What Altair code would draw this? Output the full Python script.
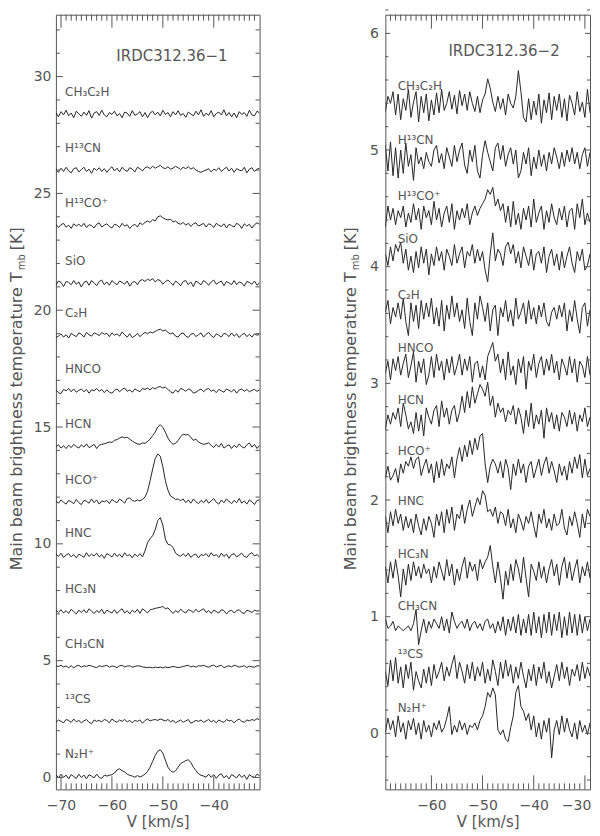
import altair as alt
import pandas as pd

FONT = "DejaVu Sans"
TEXT = "#555555"
LINE = "#262626"
FRAME = "#555555"

# ---------------- velocity channels ----------------
V0_L, DV_L = -71.0, 0.5
V0_R, DV_R = -69.0, 0.5

# ---------------- molecule labels ----------------
NAMES = ["CH₃C₂H", "H¹³CN", "H¹³CO⁺", "SiO", "C₂H", "HNCO", "HCN",
         "HCO⁺", "HNC", "HC₃N", "CH₃CN", "¹³CS", "N₂H⁺"]

# baseline offsets [K]
LEFT_OFFSETS = [28.40, 26.00, 23.62, 21.15, 18.93, 16.55, 14.18,
                11.80, 9.50, 7.10, 4.75, 2.40, 0.04]
RIGHT_OFFSETS = [5.38, 4.92, 4.44, 4.07, 3.59, 3.13, 2.69,
                 2.25, 1.82, 1.37, 0.92, 0.51, 0.05]

# ---------------- IRDC312.36-1 spectra (0.01 K above baseline) ----------------
L_CH3C2H = [6,-12,10,-4,16,-8,4,-16,12,0,
            -10,8,-6,14,-18,4,10,-6,16,-4,
            -12,6,-2,12,-8,2,-16,8,4,-10,
            14,-6,0,10,-12,6,-16,4,12,-4,
            8,-8,16,-2,6,-12,10,-4,14,-6,
            2,-14,8,0,-8,12,-4,18,-10,4,
            -6,14,-12,2,8,-4,18,-8,6,-12,
            4,-16,10,-2,6,-10,16,-4,-8,12,
            4]
L_H13CN = [4,-10,8,-6,12,-4,-12,6,10,-8,
           2,12,-6,4,-14,8,-2,10,-6,6,
           -10,4,14,-4,8,-8,12,0,-6,10,
           4,-8,12,6,-4,10,14,6,16,8,
           14,20,10,6,14,4,8,16,10,2,
           12,6,14,4,10,0,-6,-10,-4,0,
           6,-8,4,-2,10,-6,4,12,-4,8,
           -10,6,0,-4,12,-12,4,10,-6,4,
           8]
L_H13COP = [6,-8,4,10,-6,2,-12,8,-2,6,
            -4,10,-8,4,0,-10,6,12,-6,2,
            8,-4,-10,6,2,-8,10,-2,4,-12,
            0,6,-6,12,4,14,20,14,26,20,
            38,42,34,28,24,28,16,20,10,6,
            14,2,10,-4,8,12,-2,4,10,-6,
            8,4,-8,10,2,-4,8,-10,6,0,
            -6,10,4,-12,8,-2,6,-10,4,12,
            6]
L_SIO = [-8,10,4,-14,8,4,-6,12,-4,6,
         -16,4,10,-8,12,2,-10,8,14,-6,
         6,-8,12,2,-6,10,4,-4,10,-12,
         4,8,-6,12,16,8,18,12,20,6,
         16,12,-4,8,14,4,-8,10,2,-10,
         8,12,-6,6,-14,10,2,-6,12,4,
         -8,6,14,-4,4,10,-10,8,2,-6,
         12,-6,6,2,-12,8,4,-4,10,-8,
         2]
L_C2H = [-10,-4,6,-8,2,-12,8,0,-6,10,
         4,-8,12,2,-4,10,6,-2,12,4,
         8,-6,10,0,6,-4,14,2,-8,6,
         -10,-4,8,-6,4,12,6,14,10,16,
         22,26,18,22,12,6,10,-4,-8,6,
         10,-4,-10,4,8,-6,2,10,-8,4,
         12,-2,-10,6,0,-8,8,4,-6,10,
         -4,6,-10,2,8,-6,4,-8,6,0,
         4]
L_HNCO = [4,-8,-12,6,0,10,-4,8,-6,2,
          8,-4,6,-10,4,0,10,-2,6,-8,
          4,-6,-10,2,8,-4,6,12,-2,4,
          -6,8,2,-4,10,6,12,4,14,8,
          16,18,12,16,6,-4,-10,4,-6,10,
          6,-2,8,4,-10,-6,2,8,-4,6,
          10,-2,4,-8,6,0,-6,8,2,-4,
          6,-10,4,8,-2,6,-4,2,6,-2,
          4]
L_HCN = [-4,6,-8,2,-10,4,-6,8,-2,-8,
         6,-4,10,-6,0,8,-10,4,8,10,
         14,18,16,25,28,35,40,36,38,30,
         22,15,10,8,14,12,20,30,45,60,
         82,92,80,60,35,18,8,12,25,40,
         52,48,50,38,25,30,18,12,8,10,
         14,4,-6,8,-4,12,-8,0,6,-10,
         4,-6,10,-2,-8,6,14,-4,8,-10,
         4]
L_HCOP = [4,-6,8,-2,-10,6,0,-8,10,-4,
          -12,6,2,-6,12,-4,8,-10,4,0,
          6,-8,10,2,-4,12,4,-6,14,16,
          6,2,8,4,10,20,45,90,140,185,
          205,195,150,90,50,25,18,10,12,5,
          12,-4,8,-6,12,0,-8,6,-4,10,
          -6,4,14,-2,-10,8,-4,12,2,-8,
          6,-4,14,-6,4,-10,8,0,-12,6,
          8]
L_HNC = [6,-4,10,-8,2,8,-6,4,-10,6,
         0,-8,12,-4,6,-2,10,-6,4,-12,
         8,2,-6,10,-4,6,-8,12,-2,4,
         -10,6,-4,8,-6,20,55,72,85,110,
         150,162,130,70,48,45,35,10,2,-3,
         8,-4,10,-8,2,6,-10,4,0,8,
         -6,12,-2,4,-8,10,-4,6,-12,4,
         8,-6,2,10,-4,-8,6,12,-2,4,
         -6]
L_HC3N = [6,-4,8,-6,4,-8,10,0,-10,6,
          -4,8,-6,12,2,-8,4,-4,10,-10,
          6,0,-6,8,-8,4,12,-6,4,-10,
          6,-4,10,-8,12,4,-6,8,10,14,
          16,18,22,12,16,4,-8,4,-4,10,
          0,-6,8,4,-4,10,-2,6,12,-4,
          4,-8,6,0,-6,8,4,-10,2,6,
          -6,4,8,-4,-8,6,2,-4,6,2,
          4]
L_CH3CN = [3,0,5,-2,2,-5,3,-6,2,5,
           -3,3,0,5,2,-2,-5,3,0,2,
           5,-3,2,0,-5,3,5,-2,2,3,
           -3,0,3,2,-2,-3,-5,-3,-6,-3,
           -5,-3,-6,-2,-5,-3,0,-2,-5,-3,
           0,3,5,-2,2,-3,3,2,5,0,
           -3,3,6,-2,2,5,-5,0,3,-2,
           5,2,-3,0,3,-5,2,-2,-3,3,
           2]
L_13CS = [-4,6,0,-6,8,4,-4,10,-2,4,
          -6,2,8,-4,-10,6,0,4,-2,8,
          4,-6,10,2,-4,6,0,8,-2,4,
          -6,4,0,6,-8,4,10,2,6,8,
          4,10,6,2,8,-2,4,-6,0,6,
          -4,2,8,-8,-2,4,0,6,-4,2,
          8,-2,4,-6,6,0,-4,8,2,4,
          -6,4,10,0,-4,6,2,8,4,12,
          6]
L_N2HP = [8,-6,10,-4,6,-10,8,0,-8,10,
          -4,6,-10,8,2,-6,10,-4,-8,6,
          2,5,8,15,28,33,25,20,10,5,
          2,-3,4,-2,3,10,22,40,65,90,
          108,115,100,70,40,25,18,25,40,55,
          62,68,72,60,40,25,12,5,2,-3,
          10,-4,8,-8,6,12,-6,4,-10,8,
          2,-6,10,-4,6,-12,8,0,-4,10,
          4]

# ---------------- IRDC312.36-2 spectra (0.01 K above baseline) ----------------
R_CH3C2H = [-5,8,2,12,-8,10,-12,6,-4,14,
            -10,3,12,-14,8,-6,10,-13,5,-8,
            11,-6,14,-4,2,12,-3,9,-7,13,
            0,10,-4,12,2,-5,8,-6,5,10,
            23,15,3,-5,8,-3,6,-8,10,2,
            -2,8,30,12,-10,-14,6,-12,4,-8,
            10,-15,5,-6,11,-12,8,-4,10,-10,
            6,-13,9,2,-8,12,-5,3,-10,14,
            -6]
R_H13CN = [12,-10,15,-14,10,-16,8,-12,14,-6,
           4,-18,10,-4,2,-8,6,-2,-6,8,
           12,-3,5,-8,10,2,-6,12,-2,8,
           14,-5,-12,8,-2,12,-10,-16,4,16,
           6,-2,-10,10,14,0,12,-6,4,10,
           -4,8,-16,-10,6,-4,10,-14,2,-8,
           8,-6,4,-10,6,-4,10,2,-8,6,
           -6,8,-2,10,-4,6,-8,4,10,-6,
           6]
R_H13COP = [-10,8,-4,6,-8,4,-2,8,-10,2,
            -6,10,-4,6,-12,8,-2,4,-8,12,
            -4,6,-10,2,8,-6,10,-12,4,-4,
            6,-2,10,-8,2,8,0,6,10,14,
            22,18,24,8,14,4,10,-6,8,-10,
            12,-8,2,-12,6,-4,8,-10,14,-6,
            2,8,-12,4,-6,10,-2,-8,6,-4,
            8,-10,4,6,-12,10,-2,14,-8,2,
            -6]
R_SIO = [4,-6,10,-2,12,6,14,-4,8,-10,
         2,-12,6,-8,10,-4,8,-14,4,-6,
         10,-2,6,-10,8,2,-6,12,-4,4,
         10,-8,6,2,12,-4,8,-2,6,-10,
         -20,4,22,-2,8,4,-6,10,14,4,
         12,-4,6,-8,10,2,-6,8,-10,4,
         6,-4,10,-12,2,8,-6,4,-10,6,
         -8,2,10,-4,-12,6,-2,8,-10,-6,
         4]
R_C2H = [2,12,-8,6,-2,10,-4,14,-6,-18,
         10,-6,8,-12,12,-4,10,-2,14,-8,
         6,-10,12,-14,8,-4,16,-2,10,-6,
         4,-12,14,-6,-18,10,-4,16,6,-6,
         10,-14,4,8,-18,6,-2,12,-6,4,
         -10,14,-4,2,10,-8,12,-4,6,-8,
         8,-2,10,-6,-10,2,6,-4,8,-2,
         10,-14,4,-6,12,-4,-16,6,10,-10,
         4]
R_HNCO = [-4,6,-10,8,-2,10,-6,4,12,-8,
          2,14,-12,6,-4,8,-14,-6,10,-8,
          12,-2,6,-10,8,-4,10,-6,2,12,
          -6,8,-2,10,-12,4,6,-8,2,-10,
          10,16,22,6,12,-4,8,-10,14,-6,
          2,-14,8,-4,10,-18,6,-2,12,-8,
          4,10,-6,8,-2,12,-4,6,-10,8,
          2,-6,10,-4,8,-12,6,2,-8,10,
          -6]
R_HCN = [-8,4,-4,6,0,10,-6,14,4,-8,
         -2,-12,6,-10,4,-14,10,2,-4,8,
         12,-6,16,2,10,-4,8,12,-2,6,
         20,6,24,10,28,14,22,30,26,20,
         32,12,20,2,14,6,10,-2,8,4,
         12,-4,10,2,-12,8,-6,14,-8,4,
         -4,8,-16,10,-2,6,-8,4,-10,6,
         2,-6,8,-4,6,-10,4,-2,10,-6,
         2]
R_HCOP = [-6,4,-8,-4,2,-10,6,-2,8,4,
          12,2,10,12,-4,4,10,-2,6,-10,
          8,-6,10,-4,6,2,12,-6,10,20,
          8,22,12,26,14,28,18,30,32,6,
          -10,4,10,6,-2,8,-6,10,2,-16,
          6,-4,10,-2,6,-10,4,8,-6,2,
          10,-4,6,12,-2,8,0,-10,6,-4,
          4,-8,8,-2,12,2,14,-6,10,-4,
          2]
R_HNC = [4,-10,8,-4,10,-2,6,-8,4,-6,
         2,-10,6,-4,-12,2,-8,4,-2,-14,
         6,-4,8,-10,10,-2,12,-8,6,2,
         14,-2,10,18,4,12,20,14,26,22,
         8,10,4,12,-2,8,6,-4,10,-6,
         2,-10,6,0,-8,4,-2,8,-4,-14,
         6,-2,10,-6,2,-8,6,-4,-2,10,
         -6,-12,4,-4,8,-2,-14,6,-6,10,
         4]
R_HC3N = [6,-8,10,-4,12,-2,-20,4,-10,8,
          -6,10,-2,6,-4,8,0,4,-8,6,
          -4,10,2,-6,12,-2,8,-10,4,-6,
          6,14,-4,10,2,8,-6,12,4,10,
          14,24,6,-8,10,-4,-22,2,-10,8,
          -6,12,4,-8,14,-4,-20,8,2,-6,
          10,-4,6,-8,4,12,-2,8,-10,6,
          14,-4,10,-6,4,12,-8,6,-2,10,
          -4]
R_CH3CN = [6,-2,0,4,-4,0,-2,-4,-2,0,
           -4,2,14,-16,-4,6,-6,4,-2,6,
           2,-2,8,-4,6,-6,12,4,-2,2,
           4,-2,6,-4,2,4,-2,2,-4,4,
           6,-2,2,-6,4,-4,8,-8,6,-4,
           8,-6,10,-8,6,-6,10,-8,12,-6,
           8,-10,10,-6,12,-8,10,-4,12,-10,
           8,-8,12,-6,10,-8,10,-6,8,-4,
           6]
R_13CS = [2,-10,12,-6,14,-8,6,-12,8,-4,
          10,-14,2,-6,-12,4,-8,6,-10,8,
          -4,2,10,-6,6,-2,8,16,-4,10,
          2,-8,8,-4,10,-6,6,-2,10,-8,
          4,-6,12,2,-10,10,-4,12,-2,8,
          -8,6,-4,10,-2,-12,4,-6,8,-10,
          6,-4,10,-8,2,-12,-2,8,-6,10,
          -4,6,-10,4,-2,8,-6,10,-4,6,
          -2]
R_N2HP = [-4,8,-2,6,-8,10,-4,4,-10,6,
          -2,8,-6,4,-10,6,-4,2,-8,4,
          -2,6,-4,0,8,18,-6,2,-4,6,
          -2,4,-6,2,0,4,-2,6,10,18,
          30,26,34,28,-2,-6,-2,-10,-12,0,
          10,30,36,18,14,6,12,-2,10,-8,
          4,-10,6,-4,8,-26,-2,6,-6,10,
          -4,8,-2,-8,4,-10,6,-4,2,-6,
          4]

LEFT_SPECTRA = [L_CH3C2H, L_H13CN, L_H13COP, L_SIO, L_C2H, L_HNCO, L_HCN,
                L_HCOP, L_HNC, L_HC3N, L_CH3CN, L_13CS, L_N2HP]
RIGHT_SPECTRA = [R_CH3C2H, R_H13CN, R_H13COP, R_SIO, R_C2H, R_HNCO, R_HCN,
                 R_HCOP, R_HNC, R_HC3N, R_CH3CN, R_13CS, R_N2HP]

# axis ticks
L_XMAJOR = [-70, -60, -50, -40]
R_XMAJOR = [-60, -50, -40, -30]
L_YMAJOR = [0, 5, 10, 15, 20, 25, 30]
R_YMAJOR = [0, 1, 2, 3, 4, 5, 6]

TITLES = ["IRDC312.36−1", "IRDC312.36−2"]
YTITLE = ["Main beam brightness temperature T", "mb", "[K]"]


def spectra_frame(spectra, offsets, v0, dv):
    rows = []
    for name, vals, off in zip(NAMES, spectra, offsets):
        for i, t in enumerate(vals):
            rows.append({"name": name, "v": v0 + dv * i, "T": off + t / 100.0})
    return pd.DataFrame(rows)


def panel(spectra, offsets, v0, dv, xdom, ydom, xmaj, ymaj, xminor, yminor,
          W, H, xt_major, xt_minor, yt_major, yt_minor, ylabpad,
          lab_x, lab_dy, title, title_x, title_y, ytitle_x, flush):
    xs = alt.Scale(domain=xdom, nice=False, zero=False)
    ys = alt.Scale(domain=ydom, nice=False, zero=False)
    xa = alt.Axis(values=xmaj, ticks=False, tickSize=0, domain=False, grid=False,
                  labelPadding=9, title="V [km/s]", titlePadding=2,
                  format="d", labelFlush=flush, labelFlushOffset=6)
    ya = alt.Axis(values=ymaj, ticks=False, tickSize=0, domain=False, grid=False,
                  labelPadding=ylabpad, title=None, format="d", labelFlush=False)
    df = spectra_frame(spectra, offsets, v0, dv)

    lines = alt.Chart(df).mark_line(color=LINE, strokeWidth=1, clip=True).encode(
        x=alt.X("v:Q", scale=xs, axis=xa, title="V [km/s]"),
        y=alt.Y("T:Q", scale=ys, axis=ya, title=None),
        detail="name:N",
    )

    layers = [lines]

    def yrule(vals, x1, x2):
        d = pd.DataFrame({"val": vals})
        return alt.Chart(d).mark_rule(color=FRAME, strokeWidth=1).encode(
            y=alt.Y("val:Q", scale=ys, axis=ya, title=None),
            x=alt.value(x1), x2=alt.value(x2))

    def xrule(vals, y1, y2):
        d = pd.DataFrame({"val": vals})
        return alt.Chart(d).mark_rule(color=FRAME, strokeWidth=1).encode(
            x=alt.X("val:Q", scale=xs, axis=xa, title="V [km/s]"),
            y=alt.value(y1), y2=alt.value(y2))

    layers += [yrule(ymaj, 0, yt_major), yrule(ymaj, W, W - yt_major),
               yrule(yminor, 0, yt_minor), yrule(yminor, W, W - yt_minor),
               xrule(xmaj, H, H - xt_major), xrule(xmaj, 0, xt_major),
               xrule(xminor, H, H - xt_minor), xrule(xminor, 0, xt_minor)]

    labs = pd.DataFrame({"label": NAMES,
                         "x": [lab_x] * len(NAMES),
                         "y": [o + lab_dy for o in offsets]})
    layers.append(alt.Chart(labs).mark_text(align="left", baseline="middle", font=FONT,
                                            fontSize=12, color=TEXT).encode(
        x=alt.X("x:Q", scale=xs, axis=xa, title="V [km/s]"),
        y=alt.Y("y:Q", scale=ys, axis=ya, title=None),
        text="label:N"))

    tdf = pd.DataFrame({"t": [title], "x": [title_x], "y": [title_y]})
    layers.append(alt.Chart(tdf).mark_text(align="center", baseline="middle", font=FONT,
                                           fontSize=15, color=TEXT).encode(
        x=alt.X("x:Q", scale=xs, axis=xa, title="V [km/s]"),
        y=alt.Y("y:Q", scale=ys, axis=ya, title=None),
        text="t:N"))

    # rotated y-axis title with subscript
    yt = pd.DataFrame({"a": [YTITLE[0]], "b": [YTITLE[1]], "c": [YTITLE[2]]})
    layers.append(alt.Chart(yt).mark_text(angle=270, align="right", baseline="middle",
                                          font=FONT, fontSize=16, color=TEXT).encode(
        x=alt.value(ytitle_x), y=alt.value(258), text="a:N"))
    layers.append(alt.Chart(yt).mark_text(angle=270, align="left", baseline="middle",
                                          font=FONT, fontSize=10, color=TEXT).encode(
        x=alt.value(ytitle_x + 5), y=alt.value(256), text="b:N"))
    layers.append(alt.Chart(yt).mark_text(angle=270, align="left", baseline="middle",
                                          font=FONT, fontSize=16, color=TEXT).encode(
        x=alt.value(ytitle_x), y=alt.value(236), text="c:N"))

    return alt.layer(*layers).properties(width=W, height=H)


H = 776
left = panel(LEFT_SPECTRA, LEFT_OFFSETS, V0_L, DV_L,
             [-71.0, -31.0], [-0.51, 32.65], L_XMAJOR, L_YMAJOR,
             [v for v in range(-70, -31) if v not in L_XMAJOR],
             [v for v in range(0, 33) if v not in L_YMAJOR],
             204, H, 13, 6, 7, 4, 5,
             -69.2, 0.95, TITLES[0], -48.2, 30.9, -39, False)

right = panel(RIGHT_SPECTRA, RIGHT_OFFSETS, V0_R, DV_R,
              [-69.0, -29.0], [-0.48, 6.16], R_XMAJOR, R_YMAJOR,
              [v for v in range(-68, -29) if v not in R_XMAJOR],
              [round(-0.4 + 0.2 * k, 1) for k in range(34) if k % 5 != 2],
              205, H, 14, 6, 5, 3, 7,
              -66.6, 0.17, TITLES[1], -45.8, 5.85, -34, 6)

chart = alt.hconcat(left, right, spacing=82).properties(
    padding={"left": 0, "top": 0, "right": 0, "bottom": 0}
).configure_view(stroke=FRAME, strokeWidth=1).configure_axis(
    labelFont=FONT, labelFontSize=14, labelColor=TEXT,
    titleFont=FONT, titleFontSize=15, titleColor=TEXT, titleFontWeight="normal"
)

chart.save("out.html", embed_options={"renderer": "svg", "actions": False})
